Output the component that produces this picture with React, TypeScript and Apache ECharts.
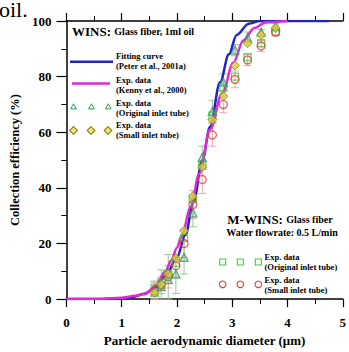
import React, { useEffect, useRef } from "react";
import * as echarts from "echarts";

// ---- data ----
const fitX = [0, 0.5, 1, 1.2, 1.4, 1.6, 1.8, 2.0, 2.15, 2.3, 2.46, 2.6, 2.78, 2.94, 3.08, 3.3, 3.5, 4.75];
const fitY = [0, 0, 0.3, 0.8, 1.8, 4, 8.5, 15, 23, 35, 50, 62, 78, 88, 95, 99, 100, 100];
const kennyX = [0, 0.5, 1, 1.25, 1.44, 1.62, 1.79, 1.9, 2.0, 2.08, 2.25, 2.4, 2.6, 2.82, 3.02, 3.2, 3.4, 3.6, 4.0];
const kennyY = [0, 0, 0.5, 1.2, 2, 5, 10, 14, 18.5, 22.5, 33, 45, 61, 74, 85, 93, 97.5, 99.5, 100];

const apsX = [1.596, 1.715, 1.843, 1.981, 2.129, 2.288, 2.458, 2.642, 2.839, 3.051, 3.278, 3.523, 3.786];
const winsOrig = [2.5, 4.5, 7, 9, 15, 31, 51, 67.5, 78, 89.5, 94, 96, 98];
const winsOrigErr = [4, 6, 9, 7, 6, 5, 4, 4, 3, 2, 2, 1, 1];
const winsSmall = [2.4, 5.3, 9, 14.7, 24.6, 37, 47.5, 64.5, 73, 84, 92, 95, 97.5];
const mwinsOrig = [4, 6, 9, 13, 22, 36, 48, 66, 76, 80, 87, 92, 96];
const mwinsSmall = [3, 5, 8, 12, 20, 34, 43, 59, 70, 79, 86, 91, 96];
const mwinsSmallErr = [3, 3, 4, 4, 5, 5, 5, 4, 3, 3, 2, 2, 1];

const xTicks = [0, 1, 2, 3, 4, 5];
const yTicks = [0, 20, 40, 60, 80, 100];

const FONT = "Liberation Serif";
const BLUE = "#2323c4";
const MAGENTA = "#e02ad8";
const GREEN_T = "#2e9e5a";
const GREEN_S = "#3ccf3c";
const RED = "#e23a3a";
const OLIVE = "#8a8a18";
const YELLOW = "#d8cc3a";

const pairs = (xs: number[], ys: number[]) => xs.map((x, i) => [x, ys[i]]);
const errData = (xs: number[], ys: number[], es: number[]) =>
  xs.map((x, i) => [x, Math.max(0, ys[i] - es[i]), Math.min(100, ys[i] + es[i])]);

const errSeries = (data: number[][], color: string) => ({
  type: "custom",
  data,
  z: 2,
  renderItem: (_p: any, api: any) => {
    const x = api.value(0);
    const lo = api.coord([x, api.value(1)]);
    const hi = api.coord([x, api.value(2)]);
    const w = 4;
    const st = { stroke: color, lineWidth: 1 };
    return {
      type: "group",
      children: [
        { type: "line", shape: { x1: lo[0], y1: lo[1], x2: hi[0], y2: hi[1] }, style: st },
        { type: "line", shape: { x1: lo[0] - w, y1: lo[1], x2: lo[0] + w, y2: lo[1] }, style: st },
        { type: "line", shape: { x1: hi[0] - w, y1: hi[1], x2: hi[0] + w, y2: hi[1] }, style: st },
      ],
    };
  },
});

const tri = (cx: number, cy: number, r: number) => [
  [cx, cy - r],
  [cx - r * 0.9, cy + r * 0.6],
  [cx + r * 0.9, cy + r * 0.6],
];
const dia = (cx: number, cy: number, r: number) => [
  [cx, cy - r],
  [cx + r, cy],
  [cx, cy + r],
  [cx - r, cy],
];

const legText = (x: number, y: number, l1: string, l2: string) => [
  {
    type: "text",
    x,
    y: y - 5,
    style: { text: l1, font: `bold 8.5px "${FONT}"`, fill: "#000", verticalAlign: "middle" },
  },
  {
    type: "text",
    x,
    y: y + 5,
    style: { text: l2, font: `bold 8.5px "${FONT}"`, fill: "#000", verticalAlign: "middle" },
  },
];

export default function App() {
  const ref = useRef<HTMLDivElement>(null);
  useEffect(() => {
    if (!ref.current) return;
    const chart = echarts.init(ref.current, null, { renderer: "svg" });
    const axisLabel = { fontFamily: FONT, fontWeight: "bold", fontSize: 13, color: "#000" };
    const graphic: any[] = [
      {
        type: "text",
        x: -1,
        y: 20,
        style: { text: "oil.", font: `22px "${FONT}"`, fill: "#000", verticalAlign: "bottom" },
      },
      {
        type: "text",
        x: 72,
        y: 31.5,
        style: {
          text: "{a|WINS:} {b|Glass fiber, 1ml oil}",
          verticalAlign: "middle",
          rich: {
            a: { font: `bold 13px "${FONT}"`, fill: "#000" },
            b: { font: `bold 10px "${FONT}"`, fill: "#000" },
          },
        },
      },
      { type: "line", shape: { x1: 70, y1: 61.7, x2: 113, y2: 61.7 }, style: { stroke: BLUE, lineWidth: 2.5 } },
      ...legText(116, 61, "Fitting curve", "(Peter et al., 2001a)"),
      { type: "line", shape: { x1: 72, y1: 83.5, x2: 110, y2: 83.5 }, style: { stroke: MAGENTA, lineWidth: 2.5 } },
      ...legText(116, 84.7, "Exp. data", "(Kenny et al., 2000)"),
      ...[73.5, 91.5, 108.3].map((cx) => ({
        type: "polygon",
        shape: { points: tri(cx, 107, 3.2) },
        style: { fill: "none", stroke: GREEN_T, lineWidth: 1 },
      })),
      ...legText(116, 107.7, "Exp. data", "(Original inlet tube)"),
      ...[73.5, 91, 108].map((cx) => ({
        type: "polygon",
        shape: { points: dia(cx, 130.5, 3.8) },
        style: { fill: "#f2e878", stroke: OLIVE, lineWidth: 1.2 },
      })),
      ...legText(116, 130, "Exp. data", "(Small inlet tube)"),
      {
        type: "text",
        x: 280,
        y: 219.3,
        style: {
          text: "{a|M-WINS:} {b|Glass fiber}",
          align: "center",
          verticalAlign: "middle",
          rich: {
            a: { font: `bold 13px "${FONT}"`, fill: "#000" },
            b: { font: `bold 10px "${FONT}"`, fill: "#000" },
          },
        },
      },
      {
        type: "text",
        x: 282,
        y: 232,
        style: {
          text: "Water flowrate: 0.5 L/min",
          font: `bold 10px "${FONT}"`,
          fill: "#000",
          align: "center",
          verticalAlign: "middle",
        },
      },
      ...[222.7, 240.3, 258.3].map((cx) => ({
        type: "rect",
        shape: { x: cx - 3, y: 262 - 3, width: 6, height: 6 },
        style: { fill: "none", stroke: GREEN_S, lineWidth: 1.1 },
      })),
      ...legText(264.5, 262, "Exp. data", "(Original inlet tube)"),
      ...[222.7, 240.3, 258.3].map((cx) => ({
        type: "circle",
        shape: { cx, cy: 284.3, r: 3.3 },
        style: { fill: "none", stroke: RED, lineWidth: 1.1 },
      })),
      ...legText(264.5, 285.3, "Exp. data", "(Small inlet tube)"),
    ];

    chart.setOption({
      animation: false,
      backgroundColor: "#fff",
      grid: { left: 66, right: 0, top: 21, bottom: 47, containLabel: false },
      xAxis: [
        {
          type: "value",
          min: xTicks[0],
          max: xTicks[xTicks.length - 1],
          interval: 1,
          position: "bottom",
          axisLine: { lineStyle: { color: "#000", width: 1.5 } },
          axisTick: { length: 8, lineStyle: { color: "#000", width: 1.2 } },
          minorTick: { show: true, splitNumber: 2, length: 5, lineStyle: { color: "#000", width: 1 } },
          splitLine: { show: false },
          axisLabel: { ...axisLabel, margin: 17 },
          name: "Particle aerodynamic diameter (μm)",
          nameLocation: "middle",
          nameGap: 34,
          nameTextStyle: { fontFamily: FONT, fontWeight: "bold", fontSize: 13, color: "#000" },
        },
        {
          type: "value",
          min: xTicks[0],
          max: xTicks[xTicks.length - 1],
          interval: 1,
          position: "top",
          axisLine: { show: true, lineStyle: { color: "#000", width: 1.5 } },
          axisTick: { show: true, length: 8, lineStyle: { color: "#000", width: 1.2 } },
          minorTick: { show: true, splitNumber: 2, length: 5, lineStyle: { color: "#000", width: 1 } },
          splitLine: { show: false },
          axisLabel: { show: false },
        },
      ],
      yAxis: {
        type: "value",
        min: yTicks[0],
        max: yTicks[yTicks.length - 1],
        interval: 20,
        axisLine: { show: true, lineStyle: { color: "#000", width: 1.5 } },
        axisTick: { show: true, length: 10, lineStyle: { color: "#000", width: 1.2 } },
        minorTick: { show: true, splitNumber: 2, length: 5, lineStyle: { color: "#000", width: 1 } },
        splitLine: { show: false },
        axisLabel: { ...axisLabel, margin: 15 },
        name: "Collection efficiency (%)",
        nameLocation: "middle",
        nameGap: 37,
        nameTextStyle: { fontFamily: FONT, fontWeight: "bold", fontSize: 12.5, color: "#000" },
      },
      graphic,
      series: [
        {
          type: "line",
          name: "Fitting curve (Peter et al., 2001a)",
          data: pairs(fitX, fitY),
          smooth: 0.35,
          smoothMonotone: "x",
          showSymbol: false,
          lineStyle: { color: BLUE, width: 2.5 },
          z: 3,
        },
        {
          type: "line",
          name: "Exp. data (Kenny et al., 2000)",
          data: pairs(kennyX, kennyY),
          smooth: 0.35,
          smoothMonotone: "x",
          showSymbol: false,
          lineStyle: { color: MAGENTA, width: 2.5 },
          z: 3,
        },
        errSeries(errData(apsX, winsOrig, winsOrigErr), "#98c898"),
        errSeries(errData(apsX, mwinsSmall, mwinsSmallErr), "#f0a8a8"),
        {
          type: "scatter",
          name: "M-WINS original inlet tube",
          data: pairs(apsX, mwinsOrig),
          symbol: "rect",
          symbolSize: 7,
          itemStyle: { color: "rgba(255,255,255,0)", borderColor: GREEN_S, borderWidth: 1.3 },
          z: 4,
        },
        {
          type: "scatter",
          name: "M-WINS small inlet tube",
          data: pairs(apsX, mwinsSmall),
          symbol: "circle",
          symbolSize: 8,
          itemStyle: { color: "rgba(255,255,255,0)", borderColor: RED, borderWidth: 1.3 },
          z: 4,
        },
        {
          type: "scatter",
          name: "WINS original inlet tube",
          data: pairs(apsX, winsOrig),
          symbol: "triangle",
          symbolSize: 8,
          itemStyle: { color: "rgba(120,170,140,0.35)", borderColor: GREEN_T, borderWidth: 1.3 },
          z: 5,
        },
        {
          type: "scatter",
          name: "WINS small inlet tube",
          data: pairs(apsX, winsSmall),
          symbol: "diamond",
          symbolSize: 9,
          itemStyle: { color: YELLOW, borderColor: OLIVE, borderWidth: 1 },
          z: 6,
        },
      ],
    });
    return () => chart.dispose();
  }, []);
  return (
    <div
      ref={ref}
      style={{ position: "fixed", left: 0, top: 0, width: 349, height: 352, background: "#fff" }}
    />
  );
}
